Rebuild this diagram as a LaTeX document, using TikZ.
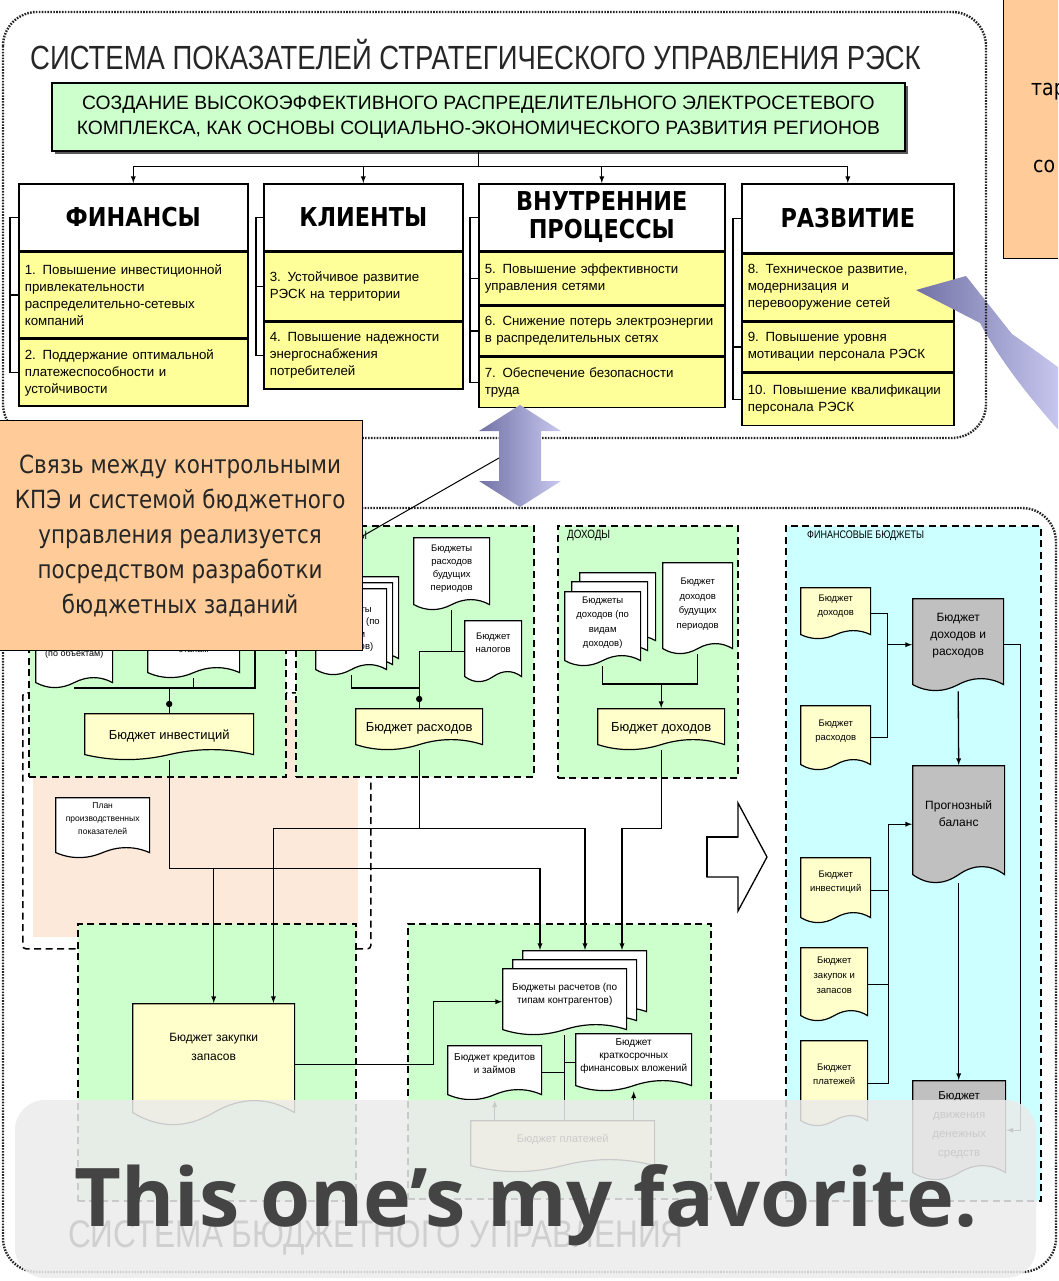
\documentclass[tikz,border=0pt]{standalone}
\usepackage{fontspec}
\setmainfont{Liberation Sans}
\newfontfamily\narrowfont{Liberation Sans}[FakeStretch=0.82]
\newfontfamily\headfont{DejaVu Sans}[FakeStretch=0.86]
\newfontfamily\capfont{Open Sans}
\usepackage{tikz}
\usetikzlibrary{shapes.geometric, arrows, positioning, calc, shadows}

\definecolor{zonegreen}{HTML}{CCFFCC}
\definecolor{zonecyan}{HTML}{CCFFFF}
\definecolor{zonepeach}{HTML}{FDE9D9}
\definecolor{itemyellow}{HTML}{FFFF99}
\definecolor{docyellow}{HTML}{FFFFCC}
\definecolor{docgray}{HTML}{C0C0C0}
\definecolor{noteorange}{HTML}{FFCC99}
\definecolor{arrowdark}{HTML}{7272A6}
\definecolor{arrowlight}{HTML}{C8C8F0}
\definecolor{veilgray}{HTML}{EBEBEB}
\definecolor{captiongray}{HTML}{444444}

\newcommand{\fsz}[2]{\fontsize{#1}{#2}\selectfont}
\newcommand{\lift}[1]{\rule[-#1]{0pt}{#1}}

\pgfdeclarelayer{zones}
\pgfdeclarelayer{lines}
\pgfsetlayers{zones,lines,main}

\begin{document}
\begin{tikzpicture}[x=1pt, y=-1pt, >=latex]
\useasboundingbox (0,0) rectangle (1058,1281);
\clip (0,0) rectangle (1058,1281);

    % Define styles
    \tikzstyle{dotframe} = [draw=black!85, line width=2.4pt, dash pattern=on 1.6pt off 1.3pt, rounded corners=34pt]
    \tikzstyle{zone} = [rectangle, draw, line width=1.5pt, dash pattern=on 7pt off 4.5pt, anchor=north west, inner sep=0pt]
    \tikzstyle{colhead} = [rectangle, draw, line width=1.6pt, fill=white, anchor=north west, align=center, font=\headfont\bfseries\fsz{26}{28}]
    \tikzstyle{kpi} = [rectangle, draw, line width=1.6pt, fill=itemyellow, anchor=north west, align=left, inner xsep=6pt, inner ysep=2pt, font=\fsz{13.3}{17}]
    \tikzstyle{line} = [draw, line width=1.3pt]
    \tikzstyle{note} = [rectangle, draw, line width=1.3pt, fill=noteorange, align=center]
    \tikzstyle{tag} = [anchor=west, inner sep=0pt, font=\narrowfont\fsz{12}{14}]
    \tikzset{doc/.style 2 args={rectangle, anchor=north west, inner sep=2pt, align=center,
        path picture={
          \path[fill=#1, draw=black, line width=1.2pt]
            let \p1=(path picture bounding box.south west),
                \p2=(path picture bounding box.north east) in
            (\x1+0.6pt,\y2-0.6pt) -- (\x2-0.6pt,\y2-0.6pt) -- (\x2-0.6pt,\y1+#2+0.6pt)
            .. controls ({\x2-(\x2-\x1)/6},{\y1+2.333*#2+0.6pt})
                    and ({(\x1+\x2)/2+(\x2-\x1)/6},{\y1+2.333*#2+0.6pt}) ..
            ({(\x1+\x2)/2},{\y1+#2+0.6pt})
            .. controls ({(\x1+\x2)/2-(\x2-\x1)/6},{\y1-0.333*#2+0.6pt})
                    and ({\x1+(\x2-\x1)/6},{\y1-0.333*#2+0.6pt}) ..
            (\x1+0.6pt,\y1+#2+0.6pt) -- cycle;
        }}}

    % Strategic indicators
    \node[anchor=west, inner sep=0pt, font=\narrowfont\fsz{33.5}{36}, text=black!85] (stitle) at (30,55) {СИСТЕМА ПОКАЗАТЕЛЕЙ СТРАТЕГИЧЕСКОГО УПРАВЛЕНИЯ РЭСК};
    \node[rectangle, draw, line width=1.6pt, fill=zonegreen, anchor=north west, minimum width=853, minimum height=68, align=center, font=\fsz{19.3}{25},
          drop shadow={shadow xshift=3pt, shadow yshift=-3pt, fill=black!65, opacity=1}] (mission) at (51,82)
        {СОЗДАНИЕ ВЫСОКОЭФФЕКТИВНОГО РАСПРЕДЕЛИТЕЛЬНОГО ЭЛЕКТРОСЕТЕВОГО\\КОМПЛЕКСА, КАК ОСНОВЫ СОЦИАЛЬНО-ЭКОНОМИЧЕСКОГО РАЗВИТИЯ РЕГИОНОВ};

    \node[colhead, minimum width=229, minimum height=67] (finance) at (18,183) {ФИНАНСЫ};
    \node[kpi, text width=217, minimum height=85] (g1) at (finance.south west) {1. Повышение инвестиционной\\привлекательности\\распределительно-сетевых\\компаний};
    \node[kpi, text width=217, minimum height=67] (g2) at (g1.south west) {2. Поддержание оптимальной\\платежеспособности и\\устойчивости};

    \node[colhead, minimum width=199, minimum height=67] (clients) at (263,183) {КЛИЕНТЫ};
    \node[kpi, text width=187, minimum height=68] (g3) at (clients.south west) {3. Устойчивое развитие\\РЭСК на территории};
    \node[kpi, text width=187, minimum height=67] (g4) at (g3.south west) {4. Повышение надежности\\энергоснабжения\\потребителей};

    \node[colhead, minimum width=246, minimum height=67] (process) at (478,183) {ВНУТРЕННИЕ\\ПРОЦЕССЫ};
    \node[kpi, text width=234, minimum height=52] (g5) at (process.south west) {5. Повышение эффективности\\управления сетями};
    \node[kpi, text width=234, minimum height=50] (g6) at (g5.south west) {6. Снижение потерь электроэнергии\\в распределительных сетях};
    \node[kpi, text width=234, minimum height=50] (g7) at (g6.south west) {7. Обеспечение безопасности\\труда};

    \node[colhead, minimum width=212, minimum height=69] (growth) at (741,183) {РАЗВИТИЕ};
    \node[kpi, text width=200, minimum height=66] (g8) at (growth.south west) {8. Техническое развитие,\\модернизация и\\перевооружение сетей};
    \node[kpi, text width=200, minimum height=50] (g9) at (g8.south west) {9. Повышение уровня\\мотивации персонала РЭСК};
    \node[kpi, text width=200, minimum height=52] (g10) at (g9.south west) {10. Повышение квалификации\\персонала РЭСК};

    \coordinate (hub) at ($(mission.south)+(0,15)$);
    \path[line] (mission.south) -- (hub);
    \draw[line, ->] (hub) -| (finance.north);
    \draw[line, ->] (hub) -| (clients.north);
    \draw[line, ->] (hub) -| (process.north);
    \draw[line, ->] (hub) -| (growth.north);

    \draw[line] (finance.west) -- ++(-8,0) |- (g2.west);
    \draw[line] (g1.west) -- ++(-8,0);
    \draw[line] (clients.west) -- ++(-7,0) |- (g4.west);
    \draw[line] (g3.west) -- ++(-7,0);
    \draw[line] (process.west) -- ++(-8,0) |- (g7.west);
    \draw[line] (g5.west) -- ++(-8,0);
    \draw[line] (g6.west) -- ++(-8,0);
    \draw[line] (growth.west) -- ++(-8,0) |- (g10.west);
    \draw[line] (g9.west) -- ++(-8,0);

    % Curved arrow over the boxes
    \shade[left color=arrowdark, right color=arrowlight] (916,290) -- (966,276) -- (1012,334)
        .. controls (1032,348) and (1048,360) .. (1062,370) -- (1062,434)
        .. controls (1035,404) and (1002,364) .. (980,323) -- cycle;

    \draw[dotframe] (3,12) rectangle (986,438);

    \node[note, anchor=north west, minimum width=80, minimum height=272] (aim) at (1003,-14) {};
    \node[anchor=west, inner sep=0pt, font=\headfont\fsz{22}{24}] (aimt1) at (1031,92) {тар};
    \node[anchor=west, inner sep=0pt, font=\headfont\fsz{22}{24}] (aimt2) at (1033,166) {со};

    % Budget system
    \begin{pgfonlayer}{zones}
    \draw[dotframe] (3,508) rectangle (1056,1272);
    \node[zone, fill=white, rounded corners=3pt, minimum width=348, minimum height=256] (zplan) at (22,692) {};
    \fill[zonepeach] (33,700) rectangle (358,937);
    \node[zone, fill=zonegreen, minimum width=257, minimum height=251] (zinv) at (28,525) {};
    \node[zone, fill=zonegreen, minimum width=238, minimum height=251] (zexp) at (295,525) {};
    \node[zone, fill=zonegreen, minimum width=180, minimum height=252] (zinc) at (557,525) {};
    \node[zone, fill=zonecyan, minimum width=255, minimum height=675] (zfin) at (785,525) {};
    \node[zone, fill=zonegreen, minimum width=278, minimum height=277] (zbuy) at (77,923) {};
    \node[zone, fill=zonegreen, minimum width=303, minimum height=275] (zset) at (407,923) {};
    \end{pgfonlayer}

    \node[tag] (lexp) at ($(zexp.north west)+(24,12)$) {РАСХОДЫ};
    \node[tag] (linc) at ($(zinc.north west)+(10,11)$) {ДОХОДЫ};
    \node[tag, font=\narrowfont\fsz{11}{13}] (lfin) at ($(zfin.north west)+(22,11)$) {ФИНАНСОВЫЕ БЮДЖЕТЫ};

    % Investments
    \node[doc={white}{5pt}, minimum width=78, minimum height=68, font=\fsz{9}{12}] (inv1) at (35,620) {(по объектам)};
    \node[doc={white}{5pt}, minimum width=93, minimum height=56, font=\fsz{9}{12}] (inv2) at (147,622) {этапам};
    \coordinate (inv3) at (255,640);
    \node[doc={docyellow}{5pt}, minimum width=170, minimum height=47, font=\fsz{13}{15}] (invb) at (84,713) {Бюджет инвестиций\lift{4pt}};

    % Expenses
    \node[doc={white}{5pt}, minimum width=72, minimum height=88] (exs3) at (327,576) {};
    \node[doc={white}{5pt}, minimum width=72, minimum height=88] (exs2) at (321,582) {};
    \node[doc={white}{5pt}, minimum width=72, minimum height=87, font=\fsz{9.5}{12.5}] (exs1) at (315,588) {Бюджеты\\расходов (по\\видам\\расходов)\lift{8pt}};
    \node[doc={white}{5pt}, minimum width=77, minimum height=73, font=\fsz{9.5}{13}] (exf) at (413,537) {Бюджеты\\расходов\\будущих\\периодов\lift{12pt}};
    \node[doc={white}{5pt}, minimum width=58, minimum height=62, font=\fsz{9.5}{13}] (ext) at (464,620) {Бюджет\\налогов\lift{16pt}};
    \node[doc={docyellow}{5pt}, minimum width=128, minimum height=42, font=\fsz{13}{15}] (exb) at (355,708) {Бюджет расходов\lift{4pt}};

    % Incomes
    \node[doc={white}{5pt}, minimum width=77, minimum height=74] (ins3) at (579,572) {};
    \node[doc={white}{5pt}, minimum width=77, minimum height=75] (ins2) at (571,581) {};
    \node[doc={white}{5pt}, minimum width=77, minimum height=75, font=\fsz{9.5}{14.5}] (ins1) at (564,591) {Бюджеты\\доходов (по\\видам\\доходов)\lift{14pt}};
    \node[doc={white}{5pt}, minimum width=71, minimum height=92, font=\fsz{9.5}{14.5}] (inf) at (662,562) {Бюджет\\доходов\\будущих\\периодов\lift{10pt}};
    \node[doc={docyellow}{5pt}, minimum width=128, minimum height=42, font=\fsz{13}{15}] (inb) at (597,708) {Бюджет доходов\lift{4pt}};

    % Financial budgets
    \node[doc={docyellow}{4pt}, minimum width=71, minimum height=52, font=\fsz{9.5}{14}] (fbinc) at (800,587) {Бюджет\\доходов\lift{16pt}};
    \node[doc={docyellow}{5pt}, minimum width=71, minimum height=65, font=\fsz{9.5}{14}] (fbexp) at (800,705) {Бюджет\\расходов\lift{14pt}};
    \node[doc={docgray}{6pt}, minimum width=92, minimum height=93, font=\fsz{12}{17}] (fbie) at (912,598) {Бюджет\\доходов и\\расходов\lift{20pt}};
    \node[doc={docgray}{8pt}, minimum width=93, minimum height=118, font=\fsz{12}{17}] (fbbal) at (912,765) {Прогнозный\\баланс\lift{22pt}};
    \node[doc={docyellow}{5pt}, minimum width=71, minimum height=66, font=\fsz{9.5}{14}] (fbinv) at (800,857) {Бюджет\\инвестиций\lift{18pt}};
    \node[doc={docyellow}{5pt}, minimum width=68, minimum height=74, font=\fsz{9.5}{15}] (fbbuy) at (800,947) {Бюджет\\закупок и\\запасов\lift{18pt}};
    \node[doc={docyellow}{5pt}, minimum width=68, minimum height=86, font=\fsz{9.5}{14}] (fbpay) at (800,1040) {Бюджет\\платежей\lift{18pt}};
    \node[doc={docgray}{7pt}, minimum width=94, minimum height=100, font=\fsz{11.5}{19}] (fbcash) at (912,1080) {Бюджет\\движения\\денежных\\средств\lift{12pt}};

    % Settlements and purchases
    \node[doc={white}{5pt}, minimum width=125, minimum height=67] (set3) at (522,950) {};
    \node[doc={white}{5pt}, minimum width=125, minimum height=67] (set2) at (512,959) {};
    \node[doc={white}{5pt}, minimum width=125, minimum height=67, font=\fsz{10}{13}] (set1) at (502,968) {Бюджеты расчетов (по\\типам контрагентов)\lift{16pt}};
    \node[doc={white}{5pt}, minimum width=95, minimum height=55, font=\fsz{10}{13}] (loans) at (447,1045) {Бюджет кредитов\\и займов\lift{18pt}};
    \node[doc={white}{5pt}, minimum width=117, minimum height=58, font=\fsz{10}{13}] (shortfin) at (575,1033) {Бюджет\\краткосрочных\\финансовых вложений\lift{14pt}};
    \node[doc={docyellow}{6pt}, minimum width=185, minimum height=52, font=\fsz{11}{13}] (pays) at (470,1120) {Бюджет платежей\lift{16pt}};
    \node[doc={docyellow}{12pt}, minimum width=163, minimum height=122, font=\fsz{12}{19}] (buy) at (132,1003) {Бюджет закупки\\запасов\lift{34pt}};
    \node[doc={white}{5pt}, minimum width=95, minimum height=61, font=\fsz{8.5}{13}] (plan) at (55,797) {План\\производственных\\показателей\lift{18pt}};

    % Connectors
    \begin{pgfonlayer}{lines}
    \coordinate (ahub) at ($(invb.north)+(0,-25)$);
    \draw[line] (inv1.south) |- (ahub);
    \draw[line] (inv2.south) |- (ahub);
    \draw[line] (inv3) |- (ahub);
    \draw[line] (ahub) -- (invb.north);

    \coordinate (bhub) at ($(exb.north)+(0,-20)$);
    \draw[line] (exf.south) |- (ext.west);
    \draw[line] (ext.west) -| (bhub);
    \draw[line] (exs1.south) |- (bhub);
    \draw[line] (bhub) -- (exb.north);

    \coordinate (dhub) at ($(inb.north)+(0,-24)$);
    \draw[line] (ins1.south) |- (dhub) -| (inf.south);
    \draw[line, ->] (dhub) -- (inb.north);

    \coordinate (ibend) at ($(invb.south)+(0,108)$);
    \coordinate (ebend) at ($(exb.south)+(0,78)$);
    \coordinate (dbend) at ($(inb.south)+(0,78)$);
    \coordinate (buyr) at ($(buy.north east)+(-22,0)$);
    \draw[line, ->] (invb.south) -- (ibend) -| ($(set3.north west)+(18,0)$);
    \draw[line, ->] (ibend -| buy.north) -- (buy.north);
    \draw[line] (exb.south) -- (ebend);
    \draw[line, ->] (buyr |- ebend) -| ($(set3.north west)+(63,0)$);
    \draw[line, ->] (buyr |- ebend) -- (buyr);
    \draw[line, ->] (inb.south) -- (dbend) -| ($(set3.north west)+(100,0)$);
    \draw[line, ->] (buy.east) -- ++(138,0) |- (set1.west);

    \draw[line] (set1.south) -- (set1.south |- pays.north);
    \draw[line] (loans.east) -- (loans.east -| set1.south);
    \draw[line] (shortfin.west) -- (shortfin.west -| set1.south);
    \draw[line, ->] (pays.north -| loans.south) -- (loans.south);
    \draw[line, ->] (pays.north -| shortfin.south) -- (shortfin.south);

    \coordinate (fj) at ($(fbinc.east)+(16,0)$);
    \draw[line] (fbinc.east) -- (fj) |- (fbexp.east);
    \draw[line, ->] (fj |- fbie.west) -- (fbie.west);
    \draw[line, ->] (fbie.south) -- (fbbal.north);
    \draw[line, ->] (fbie.east) -- ++(16,0) |- (fbcash.east);
    \coordinate (fk) at ($(fbinv.east)+(17,0)$);
    \draw[line] (fbinv.east) -- (fk);
    \draw[line] (fbbuy.east) -- (fbbuy.east -| fk);
    \draw[line, ->] (fbpay.east) -| (fk |- fbbal.west) -- (fbbal.west);
    \draw[line, ->] (fbbal.south) -- (fbbal.south |- fbcash.north);
    \end{pgfonlayer}

    \fill ($(invb.north)+(0,-9)$) circle (3.2pt);
    \fill ($(exb.north)+(0,-9)$) circle (3.2pt);

    % Hollow arrow
    \draw[line width=1.3pt, fill=white] (707,837) -- (738,837) -- (738,803) -- (767,857) -- (738,911) -- (738,877) -- (707,877) -- cycle;
    \draw[line width=2.6pt] (707,877) -- (707,837) -- (738,837);

    % Double arrow and note
    \shade[left color=arrowdark, right color=arrowlight] (520,405) -- (561,431) -- (541,431) -- (541,481) -- (561,481)
        -- (520,507) -- (479,481) -- (499,481) -- (499,431) -- (479,431) -- cycle;
    \coordinate (dblw) at (499,458);
    \node[note, anchor=north west, minimum width=365, minimum height=230, font=\headfont\fsz{25}{35}, text=black!85] (link) at (-3,420)
        {Связь между контрольными\\КПЭ и системой бюджетного\\управления реализуется\\посредством разработки\\бюджетных заданий};
    \draw[line width=1pt] (link.east) -- (dblw);

    \node[anchor=west, inner sep=0pt, font=\narrowfont\fsz{38.5}{40}, text=black!85] (btitle) at (68,1238) {СИСТЕМА БЮДЖЕТНОГО УПРАВЛЕНИЯ};

    % Caption veil
    \fill[veilgray, fill opacity=0.86, rounded corners=30pt] (15,1100) rectangle (1036,1278);
    \node[anchor=base west, inner sep=0pt, font=\capfont\bfseries\fsz{81}{88}, text=captiongray] (caption) at (74,1226) {This one’s my favorite.};

\end{tikzpicture}
\end{document}
